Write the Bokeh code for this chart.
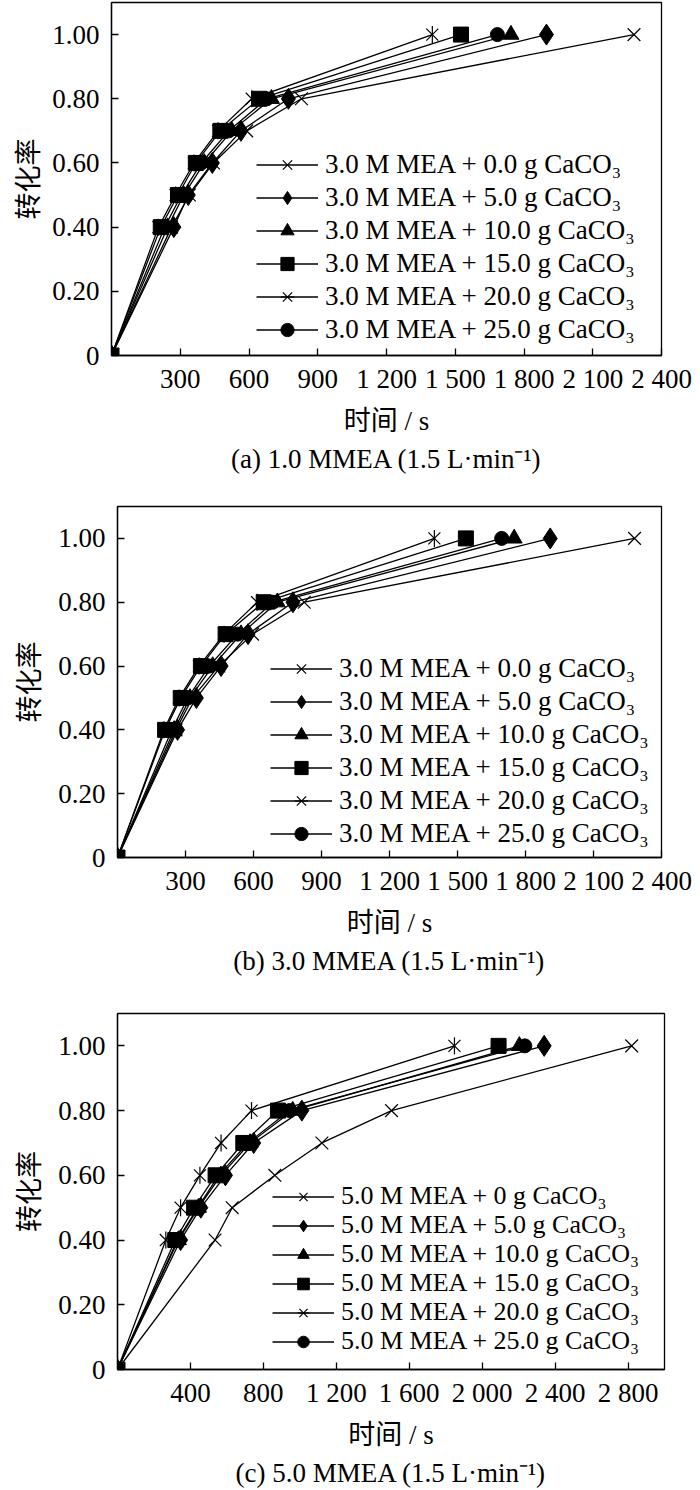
from bokeh.plotting import figure
from bokeh.models import Range1d, FixedTicker, Legend, LegendItem, Title
from bokeh.layouts import column, row
from bokeh.embed import file_html
from bokeh.resources import INLINE
import math

# ---------------- data ----------------
conversion = [0.0, 0.4, 0.5, 0.6, 0.7, 0.8, 1.0]

# panel (a) 1.0 M MEA : time (s) to reach each conversion
a_0g = [0, 262, 340, 445, 590, 829, 2280]
a_5g = [0, 272, 335, 440, 565, 772, 1898]
a_10g = [0, 245, 315, 405, 525, 698, 1743]
a_15g = [0, 215, 290, 368, 475, 645, 1525]
a_20g = [0, 205, 280, 360, 465, 612, 1400]
a_25g = [0, 232, 305, 392, 512, 678, 1684]

# panel (b) 3.0 M MEA
b_0g = [0, 258, 330, 447, 596, 824, 2281]
b_5g = [0, 265, 348, 457, 576, 774, 1909]
b_10g = [0, 250, 320, 420, 545, 705, 1750]
b_15g = [0, 210, 279, 368, 477, 645, 1537]
b_20g = [0, 205, 272, 360, 470, 616, 1398]
b_25g = [0, 240, 310, 405, 530, 685, 1695]

# panel (c) 5.0 M MEA
c_0g = [0, 535, 629, 863, 1121, 1503, 2820]
c_5g = [0, 346, 457, 592, 747, 1011, 2340]
c_10g = [0, 334, 444, 567, 727, 961, 2204]
c_15g = [0, 317, 420, 538, 690, 880, 2090]
c_20g = [0, 265, 346, 452, 568, 735, 1848]
c_25g = [0, 329, 440, 555, 715, 944, 2234]

labels_ab = ["3.0 M MEA + 0.0 g CaCO\u2083", "3.0 M MEA + 5.0 g CaCO\u2083",
             "3.0 M MEA + 10.0 g CaCO\u2083", "3.0 M MEA + 15.0 g CaCO\u2083",
             "3.0 M MEA + 20.0 g CaCO\u2083", "3.0 M MEA + 25.0 g CaCO\u2083"]
labels_c = ["5.0 M MEA + 0 g CaCO\u2083", "5.0 M MEA + 5.0 g CaCO\u2083",
            "5.0 M MEA + 10.0 g CaCO\u2083", "5.0 M MEA + 15.0 g CaCO\u2083",
            "5.0 M MEA + 20.0 g CaCO\u2083", "5.0 M MEA + 25.0 g CaCO\u2083"]

xticks_ab = [300, 600, 900, 1200, 1500, 1800, 2100, 2400]
xtick_labels_ab = ["300", "600", "900", "1 200", "1 500", "1 800", "2 100", "2 400"]
xticks_c = [400, 800, 1200, 1600, 2000, 2400, 2800]
xtick_labels_c = ["400", "800", "1 200", "1 600", "2 000", "2 400", "2 800"]
yticks = [0.0, 0.2, 0.4, 0.6, 0.8, 1.0]
ytick_labels = ["0", "0.20", "0.40", "0.60", "0.80", "1.00"]

captions = ["(a) 1.0 MMEA (1.5 L\u00b7min\u207b\u00b9)",
            "(b) 3.0 MMEA (1.5 L\u00b7min\u207b\u00b9)",
            "(c) 5.0 MMEA (1.5 L\u00b7min\u207b\u00b9)"]

SERIF = "Liberation Serif"
MIXED = "Liberation Serif, Noto Sans CJK SC"
FS = "27px"


def legend_style(**kw):
    base = dict(orientation="vertical", label_text_font=SERIF,
                label_text_font_size=FS, label_text_color="black",
                glyph_width=62, label_standoff=7, spacing=0, padding=0,
                margin=0, border_line_color=None, background_fill_alpha=0)
    base.update(kw)
    return base


def make_panel(series, labels, xmax, xticks, xlabels, caption,
               fw, fh, bl, br, bt, bb, ylab_standoff, leg_x, leg_ys, leg_h,
               leg_fs=FS):
    p = figure(frame_width=fw, frame_height=fh, min_border_left=bl,
               min_border_right=br, min_border_top=bt, min_border_bottom=bb,
               x_range=Range1d(0, xmax), y_range=Range1d(0, 1.1),
               output_backend="svg", toolbar_location=None)
    p.xgrid.visible = False
    p.ygrid.visible = False
    p.outline_line_color = "black"
    p.outline_line_width = 1.3
    p.background_fill_color = "white"

    for ax in (p.xaxis[0], p.yaxis[0]):
        ax.axis_line_width = 1.3
        ax.major_tick_line_width = 1.3
        ax.major_tick_in = 7
        ax.major_tick_out = 0
        ax.minor_tick_line_color = None
        ax.major_label_text_font = SERIF
        ax.major_label_text_font_size = FS
        ax.major_label_text_color = "black"
        ax.axis_label_text_font_size = FS
        ax.axis_label_text_font_style = "normal"
        ax.axis_label_text_color = "black"

    p.xaxis.ticker = FixedTicker(ticks=xticks)
    p.xaxis.major_label_overrides = {t: l for t, l in zip(xticks, xlabels)}
    p.xaxis.major_label_standoff = 8
    p.xaxis.axis_label = "时间 / s"
    p.xaxis.axis_label_text_font = MIXED
    p.xaxis.axis_label_standoff = 9

    p.yaxis.ticker = FixedTicker(ticks=yticks)
    p.yaxis.major_label_overrides = {t: l for t, l in zip(yticks, ytick_labels)}
    p.yaxis.major_label_standoff = 12
    p.yaxis.axis_label = "转化率"
    p.yaxis.axis_label_text_font = "Noto Sans CJK SC"
    p.yaxis.axis_label_text_line_height = 0.8
    p.yaxis.axis_label_standoff = ylab_standoff

    s0, s5, s10, s15, s20, s25 = series
    lw = 1.3
    items = {}
    # draw order: squares last so they sit on top
    r = p.line(s0, conversion, line_color="black", line_width=lw)
    m = p.scatter(s0, conversion, marker="x", size=18, line_color="black", line_width=1.2)
    items[0] = [r, m]
    r = p.line(s5, conversion, line_color="black", line_width=lw)
    m = p.scatter(s5, conversion, marker="diamond", size=21, fill_color="black", line_color="black")
    items[1] = [r, m]
    r = p.line(s10, conversion, line_color="black", line_width=lw)
    m = p.scatter(s10, conversion, marker="triangle", size=16, fill_color="black", line_color="black")
    items[2] = [r, m]
    r = p.line(s25, conversion, line_color="black", line_width=lw)
    m = p.scatter(s25, conversion, marker="circle", size=14, fill_color="black", line_color="black")
    items[5] = [r, m]
    r = p.line(s20, conversion, line_color="black", line_width=lw)
    m1 = p.scatter(s20, conversion, marker="x", size=17, line_color="black", line_width=1.2)
    m2 = p.scatter(s20, conversion, marker="dash", size=17, angle=math.pi / 2,
                   line_color="black", line_width=1.2)
    items[4] = [r, m1, m2]
    r = p.line(s15, conversion, line_color="black", line_width=lw)
    m = p.scatter(s15, conversion, marker="square", size=15, fill_color="black", line_color="black")
    items[3] = [r, m]

    if len(leg_ys) == 1:
        legend = Legend(items=[LegendItem(label=labels[i], renderers=items[i]) for i in range(6)],
                        location=(leg_x, leg_ys[0]),
                        **legend_style(glyph_height=leg_h, label_height=leg_h,
                                       label_text_font_size=leg_fs))
        p.add_layout(legend, "center")
    else:
        # one legend per row, so the rows can sit a little closer together
        for i, yy in enumerate(leg_ys):
            legend = Legend(items=[LegendItem(label=labels[i], renderers=items[i])],
                            location=(leg_x, yy),
                            **legend_style(glyph_height=leg_h, label_height=leg_h,
                                           label_text_font_size=leg_fs))
            p.add_layout(legend, "center")

    p.add_layout(Title(text=caption, align="center", text_font=SERIF,
                       text_font_size=FS, text_font_style="normal",
                       text_color="black", standoff=6), "below")
    return p


pa = make_panel([a_0g, a_5g, a_10g, a_15g, a_20g, a_25g], labels_ab, 2400,
                xticks_ab, xtick_labels_ab, captions[0],
                550, 353, 111, 39, 2, 148, 3, 145, [9], 33)
pb = make_panel([b_0g, b_5g, b_10g, b_15g, b_20g, b_25g], labels_ab, 2400,
                xticks_ab, xtick_labels_ab, captions[1],
                544, 351, 117, 39, 3, 153, 8, 153, [7], 33)
pc = make_panel([c_0g, c_5g, c_10g, c_15g, c_20g, c_25g], labels_c, 3000,
                xticks_c, xtick_labels_c, captions[2],
                547, 356, 117, 36, 3, 121, 8, 155,
                [158, 129, 100, 71, 42, 13], 29, "26px")

layout = column(row(pa), row(pb), row(pc))
open("out.html", "w").write(file_html(layout, INLINE))
